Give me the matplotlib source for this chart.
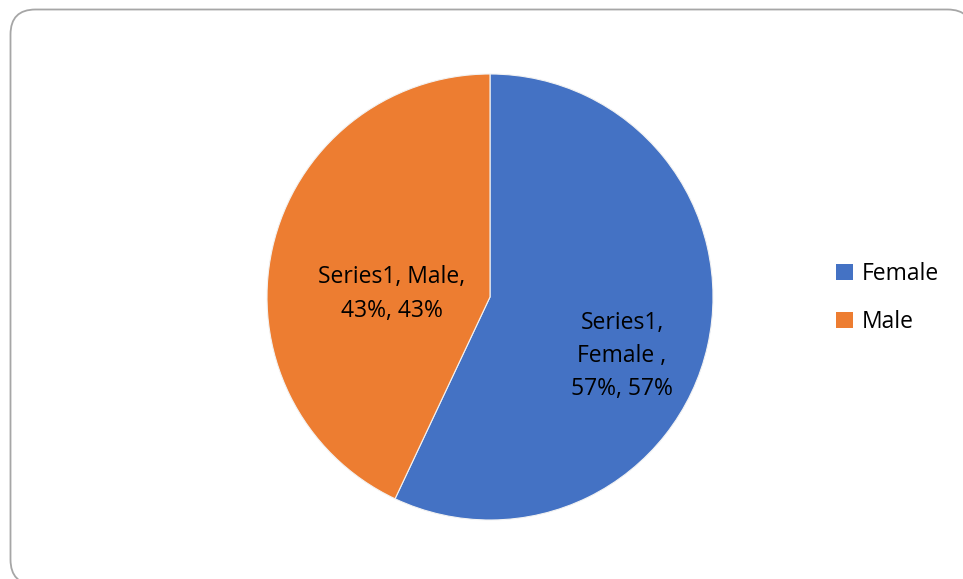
import matplotlib.pyplot as plt
from matplotlib.patches import FancyBboxPatch, Patch

# data
labels = ["Female", "Male"]
shares = [57, 43]
colors = ["#4472C4", "#ED7D31"]
slice_text = ["Series1,\nFemale ,\n57%, 57%", "Series1, Male,\n43%, 43%"]

W, H = 963, 579
fig = plt.figure(figsize=(W / 100, H / 100), dpi=100)

# background axes in pixel units, for the rounded chart-area border
bg = fig.add_axes([0, 0, 1, 1], zorder=-1)
bg.set_xlim(0, W)
bg.set_ylim(H, 0)
bg.axis("off")
bg.add_patch(FancyBboxPatch((10.5, 9.5), 962, 575,
                            boxstyle="round,pad=0,rounding_size=25",
                            facecolor="white", edgecolor="#A6A6A6", linewidth=1.3))

# pie: centre (490, 297) px, radius 223 px
cx, cy, r = 490, 297, 223
ax = fig.add_axes([(cx - r) / W, (H - cy - r) / H, 2 * r / W, 2 * r / H])
ax.pie(shares, colors=colors, startangle=90, counterclock=False, radius=1,
       wedgeprops=dict(edgecolor="#f2f2f2", linewidth=0.8))
ax.set_xlim(-1, 1)
ax.set_ylim(-1, 1)
ax.set_aspect("equal")
ax.axis("off")

font = "Open Sans"
size = 16.5
# slice labels, positions in axes units
ax.text((622 - cx) / r, (cy - 356) / r, slice_text[0], ha="center", va="center",
        fontsize=size, family=font, color="black", linespacing=1.5)
ax.text((392 - cx) / r, (cy - 294) / r, slice_text[1], ha="center", va="center",
        fontsize=size, family=font, color="black", linespacing=1.5)

# legend
handles = [Patch(facecolor=c, edgecolor="none") for c in colors]
fig.legend(handles, labels, loc="center left", bbox_to_anchor=(815 / W, 1 - 298 / H),
           frameon=False, prop={"family": font, "size": size}, labelspacing=1.05,
           handlelength=0.75, handleheight=0.75, handletextpad=0.4)

fig.savefig("out.png", dpi=100)
